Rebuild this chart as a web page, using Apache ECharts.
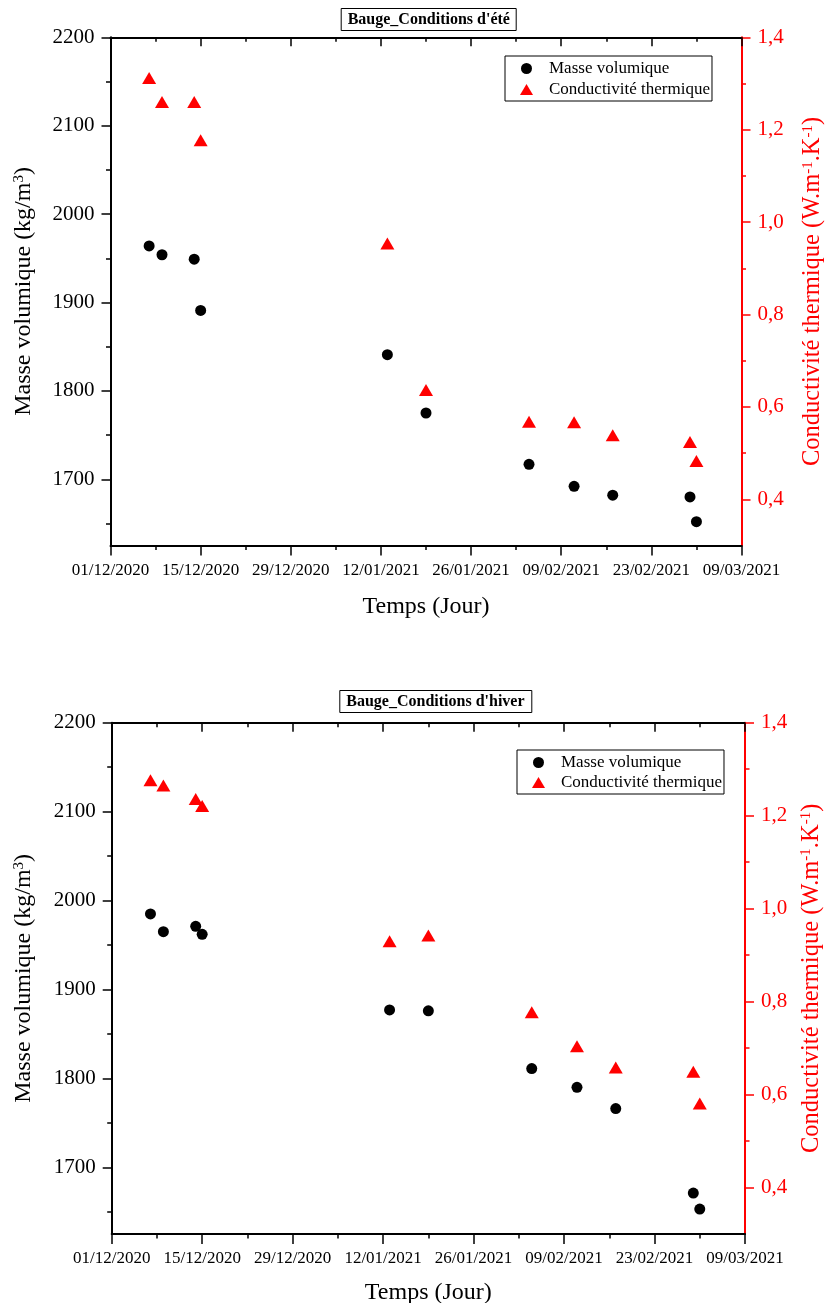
<!DOCTYPE html>
<html><head><meta charset="utf-8">
<script src="https://cdn.jsdelivr.net/npm/echarts@6/dist/echarts.min.js"></script>
<style>html,body{margin:0;padding:0;background:#fff}#c{width:825px;height:1303px}</style>
</head><body><div id="c"></div>
<script>
// ---- data ----
const dates = ['07/12/2020','09/12/2020','14/12/2020','15/12/2020','13/01/2021','19/01/2021','04/02/2021','11/02/2021','17/02/2021','01/03/2021','02/03/2021'];
const summerDensity = [1964,1954,1949,1891,1841,1775,1717,1692,1682,1680,1652];
const summerConductivity = [1.312,1.260,1.260,1.177,0.954,0.637,0.568,0.567,0.539,0.524,0.483];
const winterDensity = [1985,1965,1971,1962,1877,1876,1811,1790,1766,1671,1653];
const winterConductivity = [1.276,1.265,1.236,1.221,0.930,0.942,0.777,0.704,0.658,0.649,0.581];
const xTickLabels = ['01/12/2020','15/12/2020','29/12/2020','12/01/2021','26/01/2021','09/02/2021','23/02/2021','09/03/2021'];
const densityTicks = [1700,1800,1900,2000,2100,2200];
const densityMinorTicks = [1650,1750,1850,1950,2050,2150];
const condTicks = [0.4,0.6,0.8,1.0,1.2,1.4];
const condMinorTicks = [0.5,0.7,0.9,1.1,1.3];
const titles = ["Bauge_Conditions d'été", "Bauge_Conditions d'hiver"];
const seriesNames = ['Masse volumique', 'Conductivité thermique'];
const xName = 'Temps (Jour)';
const yName = 'Masse volumique (kg/m{sup|3})';
const y2Name = 'Conductivité thermique (W.m{sup|-1}.K{sup|-1})';

// ---- helpers ----
function dayOffset(s) {
  const p = s.split('/').map(Number);
  const p0 = xTickLabels[0].split('/').map(Number);
  return Math.round((Date.UTC(p[2], p[1]-1, p[0]) - Date.UTC(p0[2], p0[1]-1, p0[0])) / 86400000);
}
const days = dates.map(dayOffset);
const xMax = dayOffset(xTickLabels[xTickLabels.length-1]);
const xStep = dayOffset(xTickLabels[1]);

const FONT = '"Liberation Serif", "Times New Roman", serif';
const RED = '#ff0000';
const BLACK = '#000000';
const layouts = [
  {left:110.5, top:37.3, width:631, height:508.3, titleLeft:340.7, titleTop:8, legendLeft:505, legendTop:56, legendGap:4, xNameGap:49.5, yNameGap:75, y2NameGap:59},
  {left:111.7, top:722.7, width:633.3, height:511.3, titleLeft:339.3, titleTop:690, legendLeft:517, legendTop:750, legendGap:3, xNameGap:46.5, yNameGap:76, y2NameGap:54}
];
const datasets = [
  {density: summerDensity, cond: summerConductivity},
  {density: winterDensity, cond: winterConductivity}
];

const grid = [], xAxis = [], yAxis = [], series = [], legend = [], title = [];
layouts.forEach((L, i) => {
  grid.push({left: L.left, top: L.top, width: L.width, height: L.height, containLabel: false, outerBoundsMode: 'none'});
  title.push({
    text: titles[i], left: L.titleLeft, top: L.titleTop,
    textStyle: {fontFamily: FONT, fontSize: 16, fontWeight: 'bold', color: BLACK},
    borderColor: BLACK, borderWidth: 1, padding: [4, 7, 3, 7]
  });
  legend.push({
    left: L.legendLeft, top: L.legendTop, orient: 'vertical',
    data: [{name: seriesNames[0], icon: 'circle'}, {name: seriesNames[1], icon: 'triangle'}],
    itemWidth: 13, itemHeight: 11, itemGap: L.legendGap,
    borderColor: BLACK, borderWidth: 1, padding: [4, 2, 3, 15],
    textStyle: {fontFamily: FONT, fontSize: 17, color: BLACK, padding: [0, 0, 0, 11]},
    selectedMode: false
  });
  // bottom x axis
  xAxis.push({
    gridIndex: i, type: 'value', position: 'bottom', min: 0, max: xMax, interval: xStep,
    axisLine: {show: true, onZero: false, lineStyle: {color: BLACK, width: 2}},
    axisTick: {show: true, length: 10, lineStyle: {color: BLACK, width: 1.5}},
    minorTick: {show: true, splitNumber: 2, length: 4.5, lineStyle: {color: BLACK, width: 1.5}},
    axisLabel: {fontFamily: FONT, fontSize: 17, color: BLACK, margin: 16,
      formatter: v => xTickLabels[Math.round(v / xStep)] || ''},
    splitLine: {show: false}, minorSplitLine: {show: false},
    name: xName, nameLocation: 'middle', nameGap: L.xNameGap,
    nameTextStyle: {fontFamily: FONT, fontSize: 24, color: BLACK}
  });
  // top x axis (frame)
  xAxis.push({
    gridIndex: i, type: 'value', position: 'top', min: 0, max: xMax, interval: xStep,
    axisLine: {show: true, onZero: false, lineStyle: {color: BLACK, width: 2}},
    axisTick: {show: true, inside: true, length: 9, lineStyle: {color: BLACK, width: 1.5}},
    minorTick: {show: true, splitNumber: 2, length: 4.5, lineStyle: {color: BLACK, width: 1.5}},
    axisLabel: {show: false}, splitLine: {show: false}
  });
  // left y axis
  yAxis.push({
    gridIndex: i, type: 'value', position: 'left', min: 1625, max: 2200,
    axisLine: {show: true, onZero: false, lineStyle: {color: BLACK, width: 2}},
    axisTick: {show: true, length: 9, customValues: densityTicks, lineStyle: {color: BLACK, width: 1.5}},
    axisLabel: {fontFamily: FONT, fontSize: 21, color: BLACK, margin: 16, customValues: densityTicks,
      formatter: v => String(Math.round(v))},
    splitLine: {show: false},
    name: yName, nameLocation: 'middle', nameGap: L.yNameGap, nameRotate: 90,
    nameTextStyle: {fontFamily: FONT, fontSize: 24, color: BLACK,
      rich: {sup: {fontFamily: FONT, fontSize: 15, color: BLACK, verticalAlign: 'top'}}}
  });
  // left y minor ticks
  yAxis.push({
    gridIndex: i, type: 'value', position: 'left', min: 1625, max: 2200,
    axisLine: {show: false, onZero: false},
    axisTick: {show: true, length: 4.5, customValues: densityMinorTicks, lineStyle: {color: BLACK, width: 1.5}},
    axisLabel: {show: false}, splitLine: {show: false}
  });
  // right y axis
  yAxis.push({
    gridIndex: i, type: 'value', position: 'right', min: 0.3, max: 1.4,
    axisLine: {show: true, onZero: false, lineStyle: {color: RED, width: 2}},
    axisTick: {show: true, length: 9, customValues: condTicks, lineStyle: {color: RED, width: 1.5}},
    axisLabel: {fontFamily: FONT, fontSize: 21, color: RED, margin: 16, customValues: condTicks,
      formatter: v => v.toFixed(1).replace('.', ',')},
    splitLine: {show: false},
    name: y2Name, nameLocation: 'middle', nameGap: L.y2NameGap, nameRotate: 90,
    nameTextStyle: {fontFamily: FONT, fontSize: 24.5, color: RED,
      rich: {sup: {fontFamily: FONT, fontSize: 15, color: RED, verticalAlign: 'top'}}}
  });
  // right y minor ticks
  yAxis.push({
    gridIndex: i, type: 'value', position: 'right', min: 0.3, max: 1.4,
    axisLine: {show: false, onZero: false},
    axisTick: {show: true, length: 4.5, customValues: condMinorTicks, lineStyle: {color: RED, width: 1.5}},
    axisLabel: {show: false}, splitLine: {show: false}
  });
  const D = datasets[i];
  series.push({
    type: 'scatter', name: seriesNames[0], xAxisIndex: 2*i, yAxisIndex: 4*i,
    data: days.map((d, k) => [d, D.density[k]]),
    symbol: 'circle', symbolSize: 11, itemStyle: {color: BLACK, opacity: 1}
  });
  series.push({
    type: 'scatter', name: seriesNames[1], xAxisIndex: 2*i, yAxisIndex: 4*i + 2,
    data: days.map((d, k) => [d, D.cond[k]]),
    symbol: 'triangle', symbolSize: [14, 12], itemStyle: {color: RED, opacity: 1}
  });
});

const chart = echarts.init(document.getElementById('c'), null, {renderer: 'canvas'});
chart.setOption({
  animation: false, backgroundColor: '#ffffff',
  title, legend, grid, xAxis, yAxis, series
});
</script></body></html>
